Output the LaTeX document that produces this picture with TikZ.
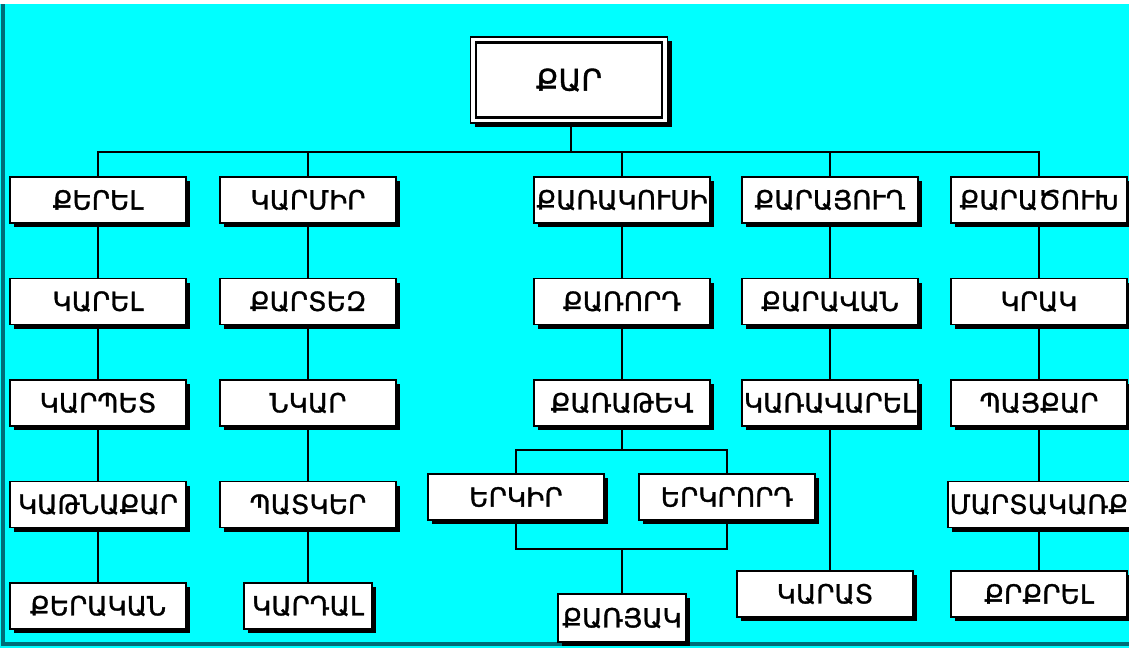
\documentclass[tikz,border=0pt]{standalone}
\usepackage{fontspec}
\usepackage{tikz}
\usetikzlibrary{positioning,shadows}
\newfontfamily\armfont[FakeBold=1.2]{DejaVu Sans}
\definecolor{bgcyan}{RGB}{0,255,255}
\definecolor{edgeteal}{RGB}{0,110,120}
\tikzset{
  box/.style={
    draw=black,
    line width=0.85pt,
    fill=white,
    minimum width=3.52cm,
    minimum height=0.92cm,
    inner sep=1pt,
    font=\armfont\fontsize{15}{17}\selectfont,
    drop shadow={shadow xshift=2.4pt, shadow yshift=-2.4pt, opacity=1, fill=black}
  },
  smallbox/.style={box, minimum width=2.56cm},
  rootbox/.style={box, minimum width=3.94cm, minimum height=1.72cm, line width=0.6pt,
    font=\armfont\fontsize{17}{19}\selectfont},
  link/.style={draw=black, line width=1.1pt}
}

\begin{document}
\begin{tikzpicture}[x=0.02cm, y=-0.02cm, node distance=1.08cm]
        \clip (0,0) rectangle (1129,647);
        \fill[bgcyan] (-10,-10) rectangle (1140,660);
        \fill[white] (-10,-10) rectangle (1140,4);
        \draw[edgeteal, line width=2pt] (3,4) -- (3,644) -- (1140,644);
        \node[rootbox] (qar) at (569,80) {ՔԱՐ};
        \draw[line width=1.6pt] ([shift={(6,6)}]qar.north west) rectangle ([shift={(-6,-6)}]qar.south east);
        % first row
        \node[box] (kerel) at (98,200) {ՔԵՐԵԼ};
        \node[box] (karmir) at (308,200) {ԿԱՐՄԻՐ};
        \node[box] (qarakusi) at (622,200) {ՔԱՌԱԿՈՒՍԻ};
        \node[box] (qarayugh) at (830,200) {ՔԱՐԱՅՈՒՂ};
        \node[box] (qaratsukh) at (1039,200) {ՔԱՐԱԾՈՒԽ};
        % columns
        \node[box, below=of kerel] (karel) {ԿԱՐԵԼ};
        \node[box, below=of karel] (karpet) {ԿԱՐՊԵՏ};
        \node[box, below=of karpet] (katnaqar) {ԿԱԹՆԱՔԱՐ};
        \node[box, below=of katnaqar] (qerakan) {ՔԵՐԱԿԱՆ};
        \node[box, below=of karmir] (qartez) {ՔԱՐՏԵԶ};
        \node[box, below=of qartez] (nkar) {ՆԿԱՐ};
        \node[box, below=of nkar] (patker) {ՊԱՏԿԵՐ};
        \node[smallbox, below=of patker] (kardal) {ԿԱՐԴԱԼ};
        \node[box, below=of qarakusi] (qarord) {ՔԱՌՈՐԴ};
        \node[box, below=of qarord] (qarateu) {ՔԱՌԱԹԵՎ};
        \node[box] (erkir) at (516,497) {ԵՐԿԻՐ};
        \node[box] (erkrord) at (727,497) {ԵՐԿՐՈՐԴ};
        \node[smallbox, minimum height=0.96cm] (qaryak) at (622,618) {ՔԱՌՅԱԿ};
        \node[box, below=of qarayugh] (qaravan) {ՔԱՐԱՎԱՆ};
        \node[box, below=of qaravan] (karavarel) {ԿԱՌԱՎԱՐԵԼ};
        \node[box] (karat) at (825,594) {ԿԱՐԱՏ};
        \node[box, below=of qaratsukh] (krak) {ԿՐԱԿ};
        \node[box, below=of krak] (paykar) {ՊԱՅՔԱՐ};
        \node[box, below=of paykar] (martakarq) {ՄԱՐՏԱԿԱՌՔ};
        \node[box] (qrqrel) at (1039,594) {ՔՐՔՐԵԼ};
        % connectors
        \coordinate (bar) at (571,152);
        \coordinate (split) at (622,450);
        \coordinate (join) at (622,549);
        \draw[link] (qar.south -| bar) -- (bar);
        \draw[link] (kerel.north) |- (bar) -| (qaratsukh.north);
        \foreach \n in {karmir,qarakusi,qarayugh}
          \draw[link] (\n.north) -- (\n.north |- bar);
        \foreach \a/\b in {kerel/karel, karel/karpet, karpet/katnaqar, katnaqar/qerakan,
                           karmir/qartez, qartez/nkar, nkar/patker, patker/kardal,
                           qarakusi/qarord, qarord/qarateu, qarayugh/qaravan, qaravan/karavarel,
                           qaratsukh/krak, krak/paykar, paykar/martakarq, martakarq/qrqrel}
          \draw[link] (\a.south) -- (\b.north);
        \draw[link] (qarateu.south) -- (split);
        \draw[link] (erkir.north) |- (split) -| (erkrord.north);
        \draw[link] (erkir.south) |- (join) -| (erkrord.south);
        \draw[link] (join) -- (qaryak.north);
        \draw[link] (karavarel.south) -- (karavarel.south |- karat.north);
      \end{tikzpicture}
\end{document}
